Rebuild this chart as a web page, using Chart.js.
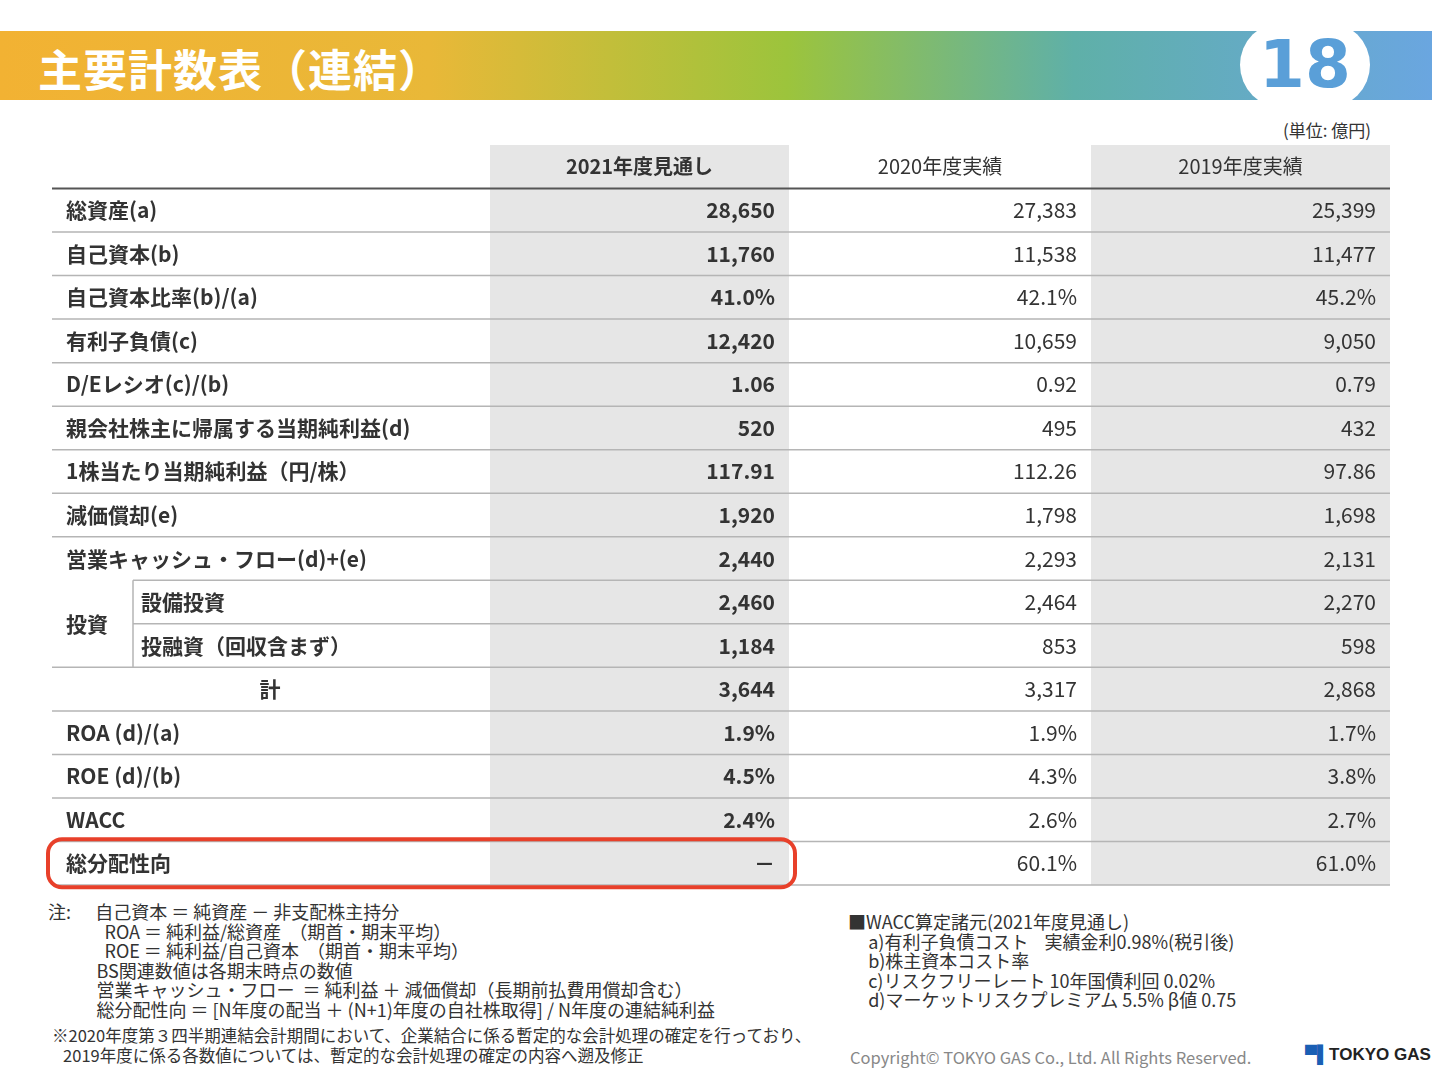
<!DOCTYPE html>
<html><head><meta charset="utf-8">
<script src="https://cdn.jsdelivr.net/npm/chart.js@4"></script>
<style>
body{margin:0;width:1432px;height:1076px;background:#fff;font-family:"Noto Sans CJK JP","Noto Sans",sans-serif;position:relative;overflow:hidden;color:#333}
.banner{position:absolute;left:0;top:31px;width:1432px;height:69px;background:linear-gradient(90deg,#f2b233 0%,#e9b838 30%,#9cc43c 55%,#5fb0a8 75%,#6aa6e0 100%)}
.title{position:absolute;left:38px;top:36px;color:#fff;font-size:44px;font-weight:bold;letter-spacing:1px}
.pill{position:absolute;left:1240px;top:22px;width:130px;height:86px;background:#fff;border-radius:43px;color:#5a9fd8;font:bold 66px "DejaVu Sans",sans-serif;text-align:center;line-height:86px}
.unit{position:absolute;left:1283px;top:117px;font-size:17px}
#wrap{position:absolute;left:46px;top:140px;width:1350px;height:755px}
.note{position:absolute;font-size:18px;line-height:19.5px;white-space:pre}
</style></head><body>
<div class="banner"></div>
<div class="title">主要計数表（連結）</div>
<div class="pill">18</div>
<div class="unit">(単位:  億円)</div>
<div id="wrap"><canvas id="c"></canvas></div>
<div class="note" style="left:48px;top:902px">注:      自己資本 ＝ 純資産 － 非支配株主持分
              ROA ＝ 純利益/総資産  （期首・期末平均）
              ROE ＝ 純利益/自己資本  （期首・期末平均）
            BS関連数値は各期末時点の数値
            営業キャッシュ・フロー  ＝ 純利益 ＋ 減価償却（長期前払費用償却含む）
            総分配性向 ＝ [N年度の配当 ＋ (N+1)年度の自社株取得] / N年度の連結純利益</div>
<div class="note" style="left:52px;top:1026px;font-size:16.5px">※2020年度第３四半期連結会計期間において、企業結合に係る暫定的な会計処理の確定を行っており、
   2019年度に係る各数値については、暫定的な会計処理の確定の内容へ遡及修正</div>
<div class="note" style="left:848px;top:912px">■WACC算定諸元(2021年度見通し)
     a)有利子負債コスト    実績金利0.98%(税引後)
     b)株主資本コスト率
     c)リスクフリーレート 10年国債利回 0.02%
     d)マーケットリスクプレミアム 5.5% β値 0.75</div>
<div class="note" style="left:850px;top:1048px;color:#888;font-size:16.5px">Copyright© TOKYO GAS Co., Ltd. All Rights Reserved.</div>
<div class="note" style="left:1305px;top:1045px;font:bold 17px 'Liberation Sans',sans-serif;color:#222"><span style="color:#1a5fb4">▀▌</span>TOKYO GAS</div>
<script>
const headers = ['2021年度見通し', '2020年度実績', '2019年度実績'];
const rowLabels = ['総資産(a)', '自己資本(b)', '自己資本比率(b)/(a)', '有利子負債(c)', 'D/Eレシオ(c)/(b)',
  '親会社株主に帰属する当期純利益(d)', '1株当たり当期純利益（円/株）', '減価償却(e)', '営業キャッシュ・フロー(d)+(e)',
  '設備投資', '投融資（回収含まず）', '計', 'ROA (d)/(a)', 'ROE (d)/(b)', 'WACC', '総分配性向'];
const v2021 = ['28,650', '11,760', '41.0%', '12,420', '1.06', '520', '117.91', '1,920', '2,440', '2,460', '1,184', '3,644', '1.9%', '4.5%', '2.4%', '－'];
const v2020 = ['27,383', '11,538', '42.1%', '10,659', '0.92', '495', '112.26', '1,798', '2,293', '2,464', '853', '3,317', '1.9%', '4.3%', '2.6%', '60.1%'];
const v2019 = ['25,399', '11,477', '45.2%', '9,050', '0.79', '432', '97.86', '1,698', '2,131', '2,270', '598', '2,868', '1.7%', '3.8%', '2.7%', '61.0%'];
const colEdges = [6, 444, 743, 1045, 1344];
const subIndent = 81;

const tablePlugin = {
  id: 'table',
  afterDraw(chart) {
    const ctx = chart.ctx, y = chart.scales.y, x = chart.scales.x;
    const X = v => x.getPixelForValue(v);
    const rows = ['header', ...rowLabels];
    const half = (y.getPixelForValue(1) - y.getPixelForValue(0)) / 2;
    const top = y.getPixelForValue(0) - half, bottom = y.getPixelForValue(rows.length - 1) + half;
    ctx.save();
    ctx.fillStyle = '#e6e6e6';
    ctx.fillRect(X(colEdges[1]), top, X(colEdges[2]) - X(colEdges[1]), bottom - top);
    ctx.fillRect(X(colEdges[3]), top, X(colEdges[4]) - X(colEdges[3]), bottom - top);
    ctx.textBaseline = 'middle';
    rows.forEach((r, i) => {
      const cy = y.getPixelForValue(i);
      const ly = cy + half;
      let lx = X(colEdges[0]);
      if (i === 9 || i === 10) lx = X(colEdges[0] + subIndent);
      ctx.strokeStyle = i === 0 ? '#555' : '#b5b5b5';
      ctx.lineWidth = i === 0 ? 2 : 1.5;
      ctx.beginPath(); ctx.moveTo(lx, ly); ctx.lineTo(X(colEdges[4]), ly); ctx.stroke();
      if (i === 0) {
        headers.forEach((h, k) => {
          ctx.font = (k === 0 ? 'bold ' : '') + '20px "Noto Sans CJK JP"';
          ctx.fillStyle = '#333'; ctx.textAlign = 'center';
          ctx.fillText(h, (X(colEdges[k + 1]) + X(colEdges[k + 2])) / 2, cy);
        });
        return;
      }
      const j = i - 1;
      ctx.fillStyle = '#333';
      ctx.font = 'bold 21px "Noto Sans CJK JP"';
      if (j === 11) { ctx.textAlign = 'center'; ctx.fillText(r, X(224), cy); }
      else { ctx.textAlign = 'left'; ctx.fillText(r, X(colEdges[0] + (j === 9 || j === 10 ? 89 : 14)), cy); }
      ctx.textAlign = 'right';
      ctx.fillText(v2021[j], X(colEdges[2] - 14), cy);
      ctx.font = '21px "Noto Sans CJK JP"';
      ctx.fillText(v2020[j], X(colEdges[3] - 14), cy);
      ctx.fillText(v2019[j], X(colEdges[4] - 14), cy);
    });
    const ya = y.getPixelForValue(10) - half, yb = y.getPixelForValue(11) + half;
    ctx.strokeStyle = '#b5b5b5'; ctx.lineWidth = 1.5;
    ctx.beginPath(); ctx.moveTo(X(colEdges[0] + subIndent), ya); ctx.lineTo(X(colEdges[0] + subIndent), yb); ctx.stroke();
    ctx.textAlign = 'left'; ctx.font = 'bold 21px "Noto Sans CJK JP"';
    ctx.fillText('投資', X(colEdges[0] + 14), (ya + yb) / 2);
    const ry = y.getPixelForValue(16);
    ctx.strokeStyle = '#e8402a'; ctx.lineWidth = 4;
    ctx.beginPath(); ctx.roundRect(X(2), ry - 24, X(749) - X(2), 48, 14); ctx.stroke();
    ctx.restore();
  }
};

new Chart(document.getElementById('c'), {
  type: 'bar',
  data: { labels: ['header', ...rowLabels], datasets: [{ data: [] }] },
  options: {
    indexAxis: 'y',
    responsive: true, maintainAspectRatio: false, animation: false,
    layout: { padding: { top: 5, bottom: 10, left: 0, right: 0 } },
    plugins: { legend: { display: false }, tooltip: { enabled: false } },
    scales: {
      x: { type: 'linear', min: 0, max: 1350, offset: false, display: false },
      y: { type: 'category', offset: true, display: false }
    }
  },
  plugins: [tablePlugin]
});
</script>
</body></html>
